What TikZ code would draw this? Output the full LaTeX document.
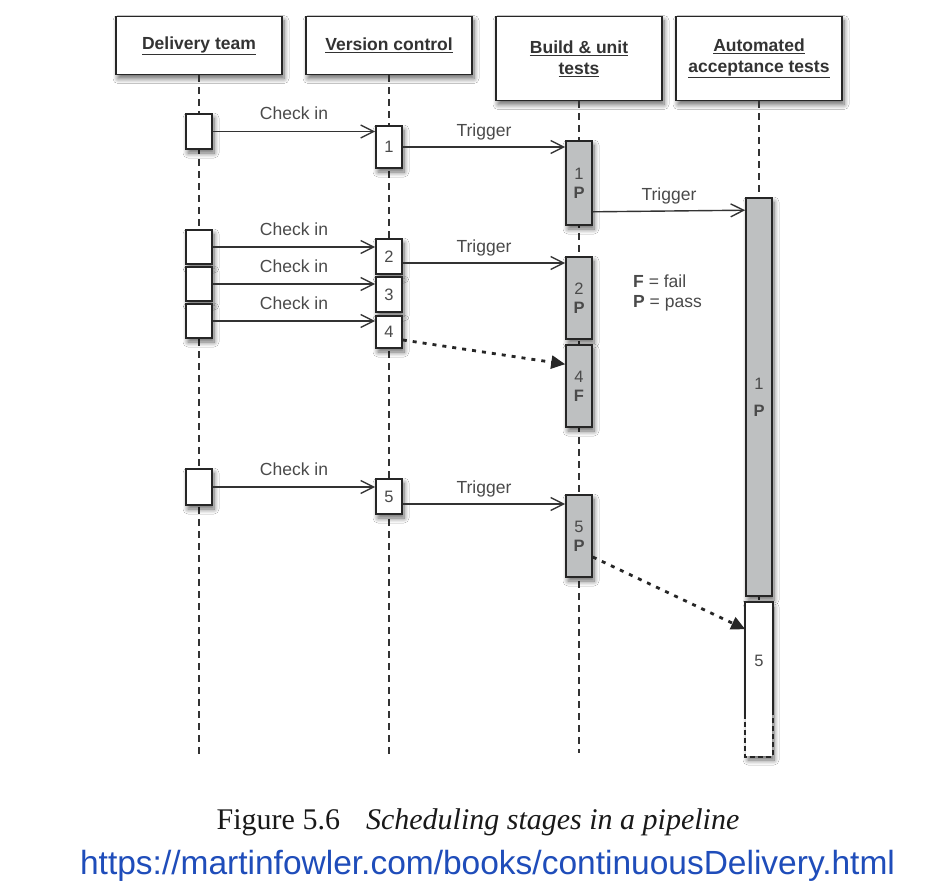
\documentclass[tikz,border=0pt]{standalone}
\usepackage{fontspec}
\setmainfont{Liberation Serif}
\setsansfont{Liberation Sans}
\usepackage{tikz}
\usetikzlibrary{arrows.meta,shadows.blur,calc}
\definecolor{ink}{HTML}{4A4A4A}
\definecolor{runfill}{HTML}{BEC0C1}
\definecolor{link}{HTML}{1F4DBA}
\tikzstyle{shade}=[blur shadow={shadow xshift=2pt, shadow yshift=-4pt, shadow blur radius=5pt, shadow blur steps=8, shadow opacity=60}]
\tikzstyle{actor}=[draw=black!85, line width=1.9pt, fill=white, minimum width=166pt, align=center, font=\sffamily\bfseries\fontsize{17.5}{21}\selectfont, text=black!80, shade]
\tikzstyle{act}=[draw=black!85, line width=1.6pt, fill=white, minimum width=26pt, inner sep=0pt, align=center, font=\sffamily\fontsize{16.5}{19}\selectfont, text=ink]
\tikzstyle{pass}=[act, fill=runfill]
\tikzstyle{num}=[font=\sffamily\fontsize{16.5}{19}\selectfont, text=ink, inner sep=0pt]
\tikzstyle{life}=[dash pattern=on 7pt off 5pt, line width=1.3pt, black!80]
\tikzstyle{call}=[line width=1.4pt, black!80, -{Straight Barb[length=13pt, width=13pt, line width=1.4pt]}]
\tikzstyle{late}=[line width=2.8pt, dash pattern=on 4pt off 6pt, black!85, -{Triangle[length=14pt, width=13pt]}]
\tikzstyle{lbl}=[font=\sffamily\fontsize{17.5}{20}\selectfont, text=ink, inner sep=0pt, text depth=0pt]

\begin{document}
\begin{tikzpicture}[x=1pt, y=-1pt]
    \useasboundingbox[fill=white] (0,0) rectangle (936,892);
    % lanes
    \node[actor, minimum height=58pt] (dt) at (199,45.5) {\underline{Delivery team}};
    \node[actor, minimum height=58pt] (vc) at (389,45.5) {\underline{Version control}};
    \node[actor, minimum height=84pt] (bu) at (579,58.5) {\underline{Build \& unit}\\\underline{tests}};
    \node[actor, minimum height=84pt] (au) at (759,58.5) {\underline{Automated}\\\underline{acceptance tests}};
    \draw[life] (dt.south) -- (dt.south |- 0,755);
    \draw[life] (vc.south) -- (vc.south |- 0,755);
    \draw[life] (bu.south) -- (bu.south |- 0,753);
    \draw[life] (au.south) -- (au.south |- 0,740);

    % check-ins
    \node[act, shade, minimum height=35pt] (d1) at (199,131.5) {};
    \node[act, shade, minimum height=34pt] (d2) at (199,247) {};
    \node[act, shade, minimum height=34pt] (d3) at (199,284) {};
    \node[act, shade, minimum height=34pt] (d4) at (199,321) {};
    \node[act, shade, minimum height=36pt] (d5) at (199,487) {};
    \node[act, shade, minimum height=42pt] (v1) at (389,147) {1};
    \node[act, shade, minimum height=35pt] (v2) at (389,256.5) {2};
    \node[act, shade, minimum height=35pt] (v3) at (389,294.5) {3};
    \node[act, shade, minimum height=32pt] (v4) at (389,332) {4};
    \node[act, shade, minimum height=35pt] (v5) at (389,496.5) {5};

    % stage runs
    \node[pass, shade, minimum height=84pt] (b1) at (579,183) {1\\\textbf{P}};
    \node[pass, shade, minimum height=82pt] (b2) at (579,298) {2\\\textbf{P}};
    \node[pass, shade, minimum height=82pt] (b4) at (579,386) {4\\\textbf{F}};
    \node[pass, shade, minimum height=82pt] (b5) at (579,536) {5\\\textbf{P}};
    \node[pass, shade, minimum height=398pt] (a1) at (759,397) {1\\[8pt]\textbf{P}};
    \node[act, shade, draw=none, minimum height=153pt] (a5) at (759,679.5) {};
    \node[num] (a5n) at (759,661) {5};
    \draw[line width=1.6pt, black!85] ($(a5.south west)+(0,-43)$) -- (a5.north west) -- (a5.north east) -- ($(a5.south east)+(0,-43)$);
    \draw[line width=1.6pt, black!85, dash pattern=on 5pt off 3pt] ($(a5.south west)+(0,-43)$) -- (a5.south west) -- (a5.south east) -- ($(a5.south east)+(0,-43)$);

    % messages
    \draw[call] (d1.east) -- (v1.west |- d1.east) node[lbl, midway, above=11pt] (c1) {Check in};
    \draw[call] (d2.east) -- (v2.west |- d2.east) node[lbl, midway, above=11pt] (c2) {Check in};
    \draw[call] (d3.east) -- (v3.west |- d3.east) node[lbl, midway, above=11pt] (c3) {Check in};
    \draw[call] (d4.east) -- (v4.west |- d4.east) node[lbl, midway, above=11pt] (c4) {Check in};
    \draw[call] (d5.east) -- (v5.west |- d5.east) node[lbl, midway, above=11pt] (c5) {Check in};
    \draw[call] (v1.east) -- (v1.east -| b1.west) node[lbl, midway, above=10pt] (t1) {Trigger};
    \draw[call] ($(v2.east)+(0,6.5)$) coordinate (g2) -- (g2 -| b2.west) node[lbl, midway, above=10pt] (t2) {Trigger};
    \draw[call] ($(v5.east)+(0,7.5)$) coordinate (g5) -- (g5 -| b5.west) node[lbl, midway, above=10pt] (t5) {Trigger};
    \draw[call] ($(b1.south east)+(0,-14)$) -- ($(a1.north west)+(0,13)$) node[lbl, midway, above=10pt] (ta) {Trigger};
    \draw[late] ($(v4.east)+(0,8)$) -- ($(b4.north west)+(0,20)$);
    \draw[late] ($(b5.east)+(0,21)$) -- ($(a5.north west)+(0,27)$);

    % key
    \node[lbl, font=\sffamily\fontsize{17.5}{20}\selectfont, anchor=base west] (kf) at (633,287) {\textbf{F} = fail};
    \node[lbl, font=\sffamily\fontsize{17.5}{20}\selectfont, anchor=base west] (kp) at (633,307) {\textbf{P} = pass};

    % caption
    \node[font=\fontsize{30}{34}\selectfont, text=black!90, anchor=base, inner sep=0pt] (cap) at (478,829) {Figure 5.6\hspace{26pt}\textit{Scheduling stages in a pipeline}};
    \node[font=\sffamily\fontsize{33.5}{38}\selectfont, text=link, anchor=base, inner sep=0pt] (url) at (487.5,874) {https://martinfowler.com/books/continuousDelivery.html};
\end{tikzpicture}
\end{document}
